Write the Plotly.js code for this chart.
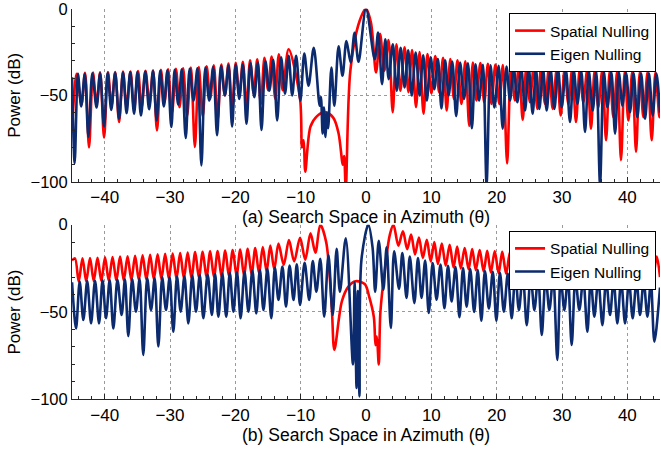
<!DOCTYPE html>
<html><head><meta charset="utf-8">
<script src="https://cdn.plot.ly/plotly-3.0.1.min.js"></script>
<style>html,body{margin:0;padding:0;background:#fff}#chart{width:661px;height:449px}</style>
</head><body><div id="chart"></div>
<script>
const seriesNames = ['Spatial Nulling', 'Eigen Nulling'];
const xTicks = [-40, -30, -20, -10, 0, 10, 20, 30, 40];
const yTicks = [-100, -50, 0];
const titleA = '(a) Search Space in Azimuth (\u03b8)';
const titleB = '(b) Search Space in Azimuth (\u03b8)';
const yTitle = 'Power (dB)';

// (a) Spatial Nulling: [azimuth, power dB] read at nulls and lobe peaks
const topSpatial = [[-45.0,-70],[-44.3,-37.5],[-43.55,-55],[-43.0,-37],[-42.4,-80],[-41.8,-36.8],[-41.25,-55],[-40.7,-36.7],[-40.1,-74.4],[-39.5,-36.6],[-38.95,-56],[-38.4,-36.5],[-37.8,-65.4],[-37.2,-36.3],[-36.65,-57],[-36.05,-36.2],[-35.5,-58],[-34.9,-36],[-34.35,-57],[-33.75,-35.8],[-33.15,-55],[-32.6,-35.5],[-32.0,-70.2],[-31.4,-35.3],[-30.85,-54],[-30.3,-35],[-29.7,-60],[-29.1,-34.7],[-28.55,-56.8],[-28.0,-34.4],[-27.4,-62],[-26.8,-34],[-26.2,-79.8],[-25.6,-33.6],[-25.0,-62],[-24.4,-33.2],[-23.85,-52],[-23.3,-32.7],[-22.7,-64],[-22.15,-32.2],[-21.6,-50],[-21.05,-31.7],[-20.5,-58],[-19.95,-31.2],[-19.4,-50],[-18.85,-30.6],[-18.3,-57],[-17.75,-29.8],[-17.2,-49],[-16.65,-29.2],[-16.1,-55],[-15.55,-28.3],[-15.0,-47],[-14.45,-27.6],[-13.9,-52],[-13.35,-26.3],[-12.75,-47],[-11.85,-23.4],[-10.1,-52],[-9.8,-80],[-9.55,-76],[-9.3,-94],[-8.5,-68],[-7.5,-62],[-6.3,-59.7],[-5.0,-63],[-4.2,-72],[-3.55,-90],[-3.35,-85],[-3.1,-104],[-2.4,-35.8],[-1.0,-7.2],[0,0],[0.75,-8],[1.53,-36.8],[2.15,-14.5],[2.8,-35.8],[3.45,-18],[4.08,-59.7],[4.65,-20.5],[5.26,-47.3],[5.9,-22.3],[6.5,-48.2],[7.05,-23.8],[7.65,-56.8],[8.2,-25],[8.8,-60.6],[9.4,-26.2],[10.0,-48.8],[10.6,-27.3],[11.2,-48.2],[11.8,-28.3],[12.35,-58.7],[12.9,-29],[13.45,-52],[14.0,-29.8],[14.6,-55],[15.2,-30.4],[15.8,-67.6],[16.35,-31],[16.9,-53],[17.5,-31.4],[18.1,-54],[18.65,-31.8],[19.2,-55],[19.8,-32.2],[20.4,-55],[20.95,-32.5],[21.6,-89.3],[22.2,-32.8],[22.8,-53],[23.4,-33.1],[23.98,-64.1],[24.55,-33.4],[25.1,-54],[25.65,-33.7],[26.23,-57.8],[26.8,-34],[27.4,-54.9],[28.0,-34.2],[28.57,-57.8],[29.2,-34.5],[29.8,-61.6],[30.4,-34.7],[30.97,-54.9],[31.55,-35],[32.14,-65.4],[32.7,-35.2],[33.26,-54],[33.85,-35.4],[34.44,-69.2],[35.0,-35.6],[35.56,-56.8],[36.15,-35.8],[36.74,-75.9],[37.3,-36],[37.86,-62.6],[38.45,-36.1],[39.03,-87.4],[39.6,-36.3],[40.16,-64.5],[40.75,-36.4],[41.33,-82.6],[41.9,-36.5],[42.46,-62.6],[43.1,-36.6],[43.73,-75.9],[44.3,-36.7],[44.9,-62.6],[45.0,-52]];

// (a) Eigen Nulling
const topEigen = [[-45.0,-39.5],[-44.6,-89],[-44.1,-37.5],[-43.6,-56.4],[-43.05,-37.5],[-42.5,-74],[-41.9,-37.3],[-41.25,-57],[-40.7,-37.2],[-40.1,-68],[-39.55,-37],[-39.0,-58.4],[-38.4,-37],[-37.8,-63.5],[-37.2,-36.8],[-36.65,-60.3],[-36.1,-36.6],[-35.5,-60.6],[-35.0,-36.5],[-34.45,-61.6],[-33.8,-36.2],[-33.2,-58],[-32.6,-36],[-32.05,-64.5],[-31.5,-35.8],[-30.95,-56.4],[-30.4,-35.5],[-29.8,-68.3],[-29.3,-35.2],[-28.75,-55.3],[-28.2,-35],[-27.6,-74.6],[-27.0,-34.6],[-26.4,-53],[-25.8,-34.3],[-25.2,-90.4],[-24.6,-34],[-24.0,-53],[-23.4,-33.6],[-22.8,-73],[-22.2,-33.2],[-21.6,-50],[-21.05,-32.8],[-20.5,-68],[-19.95,-32.4],[-19.4,-52],[-18.85,-32],[-18.3,-66.4],[-17.7,-31.5],[-17.1,-51],[-16.55,-31],[-16.0,-70],[-15.4,-30.3],[-14.8,-47.3],[-14.2,-29.5],[-13.6,-64.5],[-13.0,-28],[-12.4,-49],[-11.85,-27.2],[-11.3,-50],[-10.7,-27.2],[-10.05,-53],[-9.45,-25.9],[-8.8,-44.4],[-8.0,-22.5],[-7.1,-56],[-6.9,-51],[-6.65,-72],[-6.45,-57],[-6.2,-74],[-6.0,-60],[-5.8,-69],[-5.3,-34],[-4.85,-56],[-4.2,-21.7],[-3.6,-38.7],[-3.0,-18.6],[-2.35,-31],[-1.75,-13.9],[-1.15,-30.6],[0.0,0],[1.33,-29.1],[1.85,-13.8],[2.45,-43.5],[2.95,-17.7],[3.47,-40.6],[4.1,-20.5],[4.7,-47.3],[5.3,-22.5],[5.9,-45.4],[6.45,-24],[7.0,-50.1],[7.6,-25.3],[8.2,-50.1],[8.75,-26.8],[9.3,-53],[9.9,-28],[10.45,-46.5],[11.0,-29],[11.55,-57.5],[12.1,-29.8],[12.65,-50],[13.2,-30.5],[13.8,-62],[14.4,-31],[15.0,-52],[15.6,-31.5],[16.2,-69],[16.75,-32],[17.3,-53],[17.9,-32.3],[18.45,-101],[19.05,-32.6],[19.65,-57],[20.3,-33],[20.92,-69.2],[21.5,-33.3],[22.04,-53],[22.6,-33.6],[23.16,-54],[23.75,-33.9],[24.34,-58.7],[24.9,-34.2],[25.51,-60.6],[26.0,-34.5],[26.53,-57.8],[27.1,-34.8],[27.65,-58.7],[28.25,-35],[28.83,-57.8],[29.4,-35.2],[29.95,-56.8],[30.6,-35.4],[31.22,-65.4],[31.8,-35.6],[32.35,-54.9],[32.95,-35.8],[33.52,-71.1],[34.1,-36],[34.7,-58.7],[35.25,-36.2],[35.82,-101],[36.4,-36.4],[36.94,-56.8],[37.55,-36.6],[38.12,-72.1],[38.7,-36.8],[39.24,-55.9],[39.8,-37],[40.41,-59.7],[40.95,-37.1],[41.53,-62.6],[42.1,-37.2],[42.71,-63.5],[43.3,-37.3],[43.88,-61.6],[44.45,-37.4],[45.0,-60]];

// (b) Spatial Nulling
const bottomSpatial = [[-45.0,-20.5],[-44.55,-19.3],[-43.98,-32.5],[-43.4,-19.2],[-42.83,-32.4],[-42.25,-19.1],[-41.68,-32.3],[-41.1,-18.9],[-40.52,-32.2],[-39.95,-18.7],[-39.38,-32.1],[-38.8,-18.5],[-38.22,-32],[-37.65,-18.3],[-37.08,-31.9],[-36.5,-18.1],[-35.92,-31.8],[-35.35,-17.8],[-34.78,-31.6],[-34.2,-17.5],[-33.62,-31.5],[-33.05,-17.3],[-32.48,-31.3],[-31.9,-17],[-31.32,-31.2],[-30.75,-16.7],[-30.18,-31],[-29.6,-16.5],[-29.02,-30.9],[-28.45,-16.2],[-27.88,-30.7],[-27.3,-16],[-26.72,-30.6],[-26.15,-15.7],[-25.58,-30.4],[-25.0,-15.5],[-24.42,-30.2],[-23.85,-15.3],[-23.28,-30],[-22.7,-15.1],[-22.12,-29.8],[-21.55,-14.8],[-20.98,-29.6],[-20.4,-14.5],[-19.82,-29.3],[-19.25,-14.2],[-18.68,-29],[-18.1,-13.8],[-17.52,-28.5],[-16.95,-13.4],[-16.38,-27.8],[-15.8,-12.8],[-15.22,-26.8],[-14.65,-12],[-14.05,-25.5],[-13.4,-10.8],[-12.6,-23],[-11.8,-8.8],[-11.0,-21],[-10.1,-7.5],[-9.3,-20],[-8.5,-5],[-7.75,-16],[-7.0,0],[-6.1,-10],[-5.25,-47],[-4.85,-71.6],[-3.7,-43.9],[-2.7,-35.5],[-1.6,-32.4],[-0.2,-34],[0.5,-41.5],[1.2,-53],[1.45,-69],[1.65,-64],[1.95,-80],[2.2,-50],[2.9,-25],[3.65,-5.7],[4.2,0],[4.95,-12],[5.65,-3.8],[6.3,-14],[6.9,-5.7],[7.5,-17],[8.1,-7.3],[8.7,-19],[9.3,-8.6],[9.9,-21],[10.45,-10],[11.0,-22.5],[11.6,-10.8],[12.2,-23.5],[12.8,-11.5],[13.4,-24.5],[13.95,-12.5],[14.5,-25],[15.1,-13.4],[15.7,-25.5],[16.25,-14],[16.8,-26],[17.4,-14.5],[18.0,-26.8],[18.55,-15],[19.1,-27.3],[19.7,-15.3],[20.3,-27.8],[20.85,-15.6],[21.45,-28.1],[22.03,-15.8],[22.6,-28.4],[23.2,-16],[23.8,-28.6],[24.4,-16.2],[25.0,-28.8],[25.58,-16.4],[26.15,-29],[26.75,-16.6],[27.35,-29.2],[27.95,-16.8],[28.5,-29.4],[29.1,-17],[29.7,-29.6],[30.3,-17.1],[30.9,-29.8],[31.5,-17.3],[32.05,-30],[32.65,-17.4],[33.25,-30.1],[33.85,-17.5],[34.4,-30.3],[35.0,-17.6],[35.6,-30.4],[36.2,-17.7],[36.8,-30.5],[37.4,-17.8],[37.95,-30.6],[38.55,-17.9],[39.15,-30.7],[39.75,-18],[40.3,-30.8],[40.9,-18.1],[41.5,-30.9],[42.1,-18.1],[42.7,-31],[43.3,-18.2],[43.9,-31.1],[44.5,-18.3],[45.0,-30]];

// (b) Eigen Nulling
const bottomEigen = [[-45.0,-33],[-44.39,-59.4],[-43.83,-32.5],[-43.27,-54.6],[-42.68,-32.3],[-42.09,-56.5],[-41.48,-32.1],[-40.87,-56.5],[-40.33,-31.9],[-39.8,-53.6],[-39.24,-31.7],[-38.68,-59.4],[-38.05,-31.5],[-37.41,-51.7],[-36.9,-31.3],[-36.39,-63.8],[-35.8,-31.1],[-35.22,-49.8],[-34.66,-30.9],[-34.1,-74.6],[-33.5,-30.7],[-32.91,-48.9],[-32.35,-30.5],[-31.79,-69.8],[-31.2,-30.2],[-30.62,-48.9],[-30.06,-30],[-29.5,-61.3],[-28.94,-29.7],[-28.37,-49.8],[-27.8,-29.4],[-27.2,-56.5],[-26.6,-29.1],[-26.03,-49.8],[-25.45,-28.9],[-24.9,-53.6],[-24.25,-28.6],[-23.6,-51.7],[-23.1,-28.3],[-22.6,-52.7],[-22.0,-28],[-21.4,-52.7],[-20.85,-27.6],[-20.3,-49.8],[-19.75,-27.2],[-19.2,-53.6],[-18.6,-26.8],[-18.0,-49.8],[-17.4,-26.3],[-16.8,-50.8],[-16.25,-25.8],[-15.7,-48.9],[-15.1,-25.3],[-14.5,-53.6],[-13.95,-24.7],[-13.4,-43.1],[-12.8,-24],[-12.25,-46.9],[-11.7,-23.4],[-11.1,-43.1],[-10.6,-22.7],[-10.1,-46],[-9.4,-21.8],[-8.7,-43.1],[-8.15,-20.8],[-7.6,-38.4],[-7.0,-19.5],[-6.4,-52.7],[-5.75,-17.5],[-5.1,-51.7],[-4.5,-13.8],[-4.0,-38.4],[-3.1,-7.8],[-2.0,-80],[-1.75,-33],[-1.45,-93.5],[-1.25,-38],[-1.0,-98.3],[-0.7,-20],[0.36,0],[1.0,-13],[1.4,-38.4],[1.95,-9.2],[2.65,-37.2],[3.15,-13],[3.8,-59.2],[4.3,-15.3],[5.05,-36.7],[5.56,-16.3],[6.2,-42],[6.7,-18.2],[7.4,-44.9],[7.95,-19.1],[8.5,-42],[9.05,-20.5],[9.6,-50.6],[10.2,-22],[10.8,-43],[11.4,-22.8],[12.0,-47.8],[12.55,-23.5],[13.1,-44],[13.7,-24.2],[14.3,-53],[14.85,-24.8],[15.4,-47],[15.95,-25.4],[16.55,-50],[17.1,-26],[17.65,-55],[18.2,-26.5],[18.8,-48],[19.4,-27],[19.95,-55],[20.5,-27.5],[21.1,-49.8],[21.7,-28],[22.3,-53.6],[22.85,-28.4],[23.4,-48.9],[24.0,-28.8],[24.6,-57.5],[25.2,-29.1],[25.77,-48.9],[26.35,-29.4],[26.9,-63.2],[27.5,-29.7],[28.06,-48.9],[28.65,-30],[29.28,-77.5],[29.8,-30.2],[30.36,-48.9],[30.9,-30.4],[31.48,-68.9],[32.05,-30.6],[32.65,-48.9],[33.25,-30.8],[33.88,-61.3],[34.4,-31],[34.95,-52.7],[35.55,-31.2],[36.18,-57.5],[36.75,-31.4],[37.35,-51.7],[37.9,-31.6],[38.47,-56.5],[39.05,-31.8],[39.65,-56.5],[40.25,-32],[40.82,-53.6],[41.4,-32.1],[41.94,-51.7],[42.5,-32.3],[43.07,-52.7],[43.6,-32.5],[44.14,-67],[45.0,-36]];

const RED = '#ff0000';
const BLUE = '#0c2a6e';
const FONT = 'Liberation Sans, Arial, Helvetica, sans-serif';

function mk(pts, name, color, xa, ya, leg) {
  return {
    x: pts.map(p => p[0]), y: pts.map(p => p[1]),
    type: 'scatter', mode: 'lines', name: name,
    line: {color: color, width: 2.6, shape: 'spline', smoothing: 0.9},
    xaxis: xa, yaxis: ya, legend: leg, hoverinfo: 'skip'
  };
}

const traces = [
  mk(topSpatial, seriesNames[0], RED, 'x', 'y', 'legend'),
  mk(topEigen, seriesNames[1], BLUE, 'x', 'y', 'legend'),
  mk(bottomSpatial, seriesNames[0], RED, 'x2', 'y2', 'legend2'),
  mk(bottomEigen, seriesNames[1], BLUE, 'x2', 'y2', 'legend2')
];

function xAxis(title, anchor) {
  return {
    domain: [0.109, 0.9985], range: [-45, 45], anchor: anchor,
    tickmode: 'array', tickvals: xTicks, ticktext: xTicks.map(v => v < 0 ? '\u2212' + Math.abs(v) : String(v)),
    ticks: 'inside', ticklen: 5, tickcolor: '#262626', tickwidth: 1,
    minor: {ticks: 'inside', dtick: 2, ticklen: 3, tickcolor: '#262626', showgrid: false},
    showline: true, linecolor: '#262626', linewidth: 1, mirror: false,
    showgrid: true, gridcolor: '#9a9a9a', griddash: 'dot', gridwidth: 1,
    zeroline: false, tickfont: {family: FONT, size: 17, color: '#000'},
    ticklabeloverflow: 'allow',
    title: {text: title, font: {family: FONT, size: 17.5, color: '#000'}, standoff: 1},
    automargin: false, fixedrange: true
  };
}
function yAxis(domain, anchor) {
  return {
    domain: domain, range: [-100, 0], anchor: anchor,
    tickmode: 'array', tickvals: yTicks, ticktext: yTicks.map(v => v < 0 ? '\u2212' + Math.abs(v) : String(v)),
    ticks: 'inside', ticklen: 5, tickcolor: '#262626', tickwidth: 1,
    minor: {ticks: 'inside', dtick: 10, ticklen: 3, tickcolor: '#262626', showgrid: false},
    showline: true, linecolor: '#262626', linewidth: 1, mirror: false,
    showgrid: true, gridcolor: '#9a9a9a', griddash: 'dot', gridwidth: 1,
    zeroline: false, tickfont: {family: FONT, size: 16.5, color: '#000'},
    ticklabeloverflow: 'allow',
    title: {text: yTitle, font: {family: FONT, size: 17, color: '#000'}, standoff: 5},
    automargin: false, fixedrange: true
  };
}
function legendAt(y) {
  return {
    x: 0.9925, y: y, xanchor: 'right', yanchor: 'top',
    bgcolor: '#ffffff', bordercolor: '#000000', borderwidth: 1,
    font: {family: FONT, size: 15.5, color: '#000'}, tracegroupgap: 0,
    itemwidth: 30
  };
}

const layout = {
  width: 661, height: 449,
  margin: {l: 0, r: 0, t: 0, b: 0},
  paper_bgcolor: '#ffffff', plot_bgcolor: '#ffffff',
  showlegend: true,
  xaxis: xAxis(titleA, 'y'),
  yaxis: yAxis([0.5947, 0.9805], 'x'),
  xaxis2: xAxis(titleB, 'y2'),
  yaxis2: yAxis([0.1107, 0.4996], 'x2'),
  legend: legendAt(0.971),
  legend2: legendAt(0.486)
};

Plotly.newPlot('chart', traces, layout, {staticPlot: true, displayModeBar: false});
</script>
</body></html>
